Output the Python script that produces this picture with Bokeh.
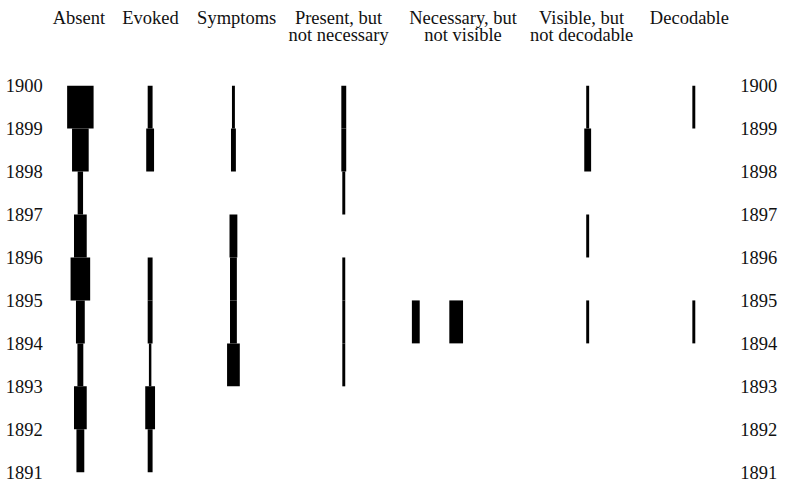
from bokeh.plotting import figure
from bokeh.models import Range1d, ColumnDataSource
from bokeh.core.properties import value
from bokeh.embed import file_html
from bokeh.resources import INLINE

# ---- data ----
years = [1891, 1892, 1893, 1894, 1895, 1896, 1897, 1898, 1899, 1900]
seg_start = years[:-1]  # each segment runs from year to year+1

header_line1 = ["Absent", "Evoked", "Symptoms", "Present, but", "Necessary, but", "Visible, but", "Decodable"]
header_line2 = ["", "", "", "not necessary", "not visible", "not decodable", ""]

# segment weights (bar widths), segments 1891-92 ... 1899-1900
absent      = [8, 13, 6, 9, 20, 13, 5.5, 17, 27]
evoked      = [5, 10, 2.5, 5, 5, 0, 0, 8, 5]
symptoms    = [0, 0, 13, 7, 7, 8, 0, 5, 3]
present     = [0, 0, 3, 3, 3, 0, 3, 5, 5]
necessary_a = [0, 0, 0, 8, 0, 0, 0, 0, 0]
necessary_b = [0, 0, 0, 14, 0, 0, 0, 0, 0]
visible     = [0, 0, 0, 3, 0, 3, 0, 7, 3]
decodable   = [0, 0, 0, 3, 0, 0, 0, 0, 3]

series = [absent, evoked, symptoms, present, necessary_a, necessary_b, visible, decodable]

# ---- layout (reference-pixel coordinates) ----
series_x = [81.5, 152.7, 237.7, 350.3, 423.8, 465.0, 599.2, 707.5]
header_x = [80, 153, 241, 345, 472, 593, 703]
REF_W, REF_H = 798, 508
Y_TOP_PX, PX_PER_YEAR = 89.0, 44.9


def ref_y(py):
    return 1900 - (py - Y_TOP_PX) / PX_PER_YEAR


p = figure(width=782, height=486, output_backend="svg", toolbar_location=None,
           x_axis_type=None, y_axis_type=None, min_border=0)
p.x_range = Range1d(0, REF_W)
p.y_range = Range1d(ref_y(REF_H), ref_y(0))
p.xgrid.visible = False
p.ygrid.visible = False
p.outline_line_color = None
p.background_fill_color = "white"
p.border_fill_color = "white"

bx, bb, bt, bw = [], [], [], []
for xs, vals in zip(series_x, series):
    for start, w in zip(seg_start, vals):
        if w > 0:
            bx.append(xs)
            bb.append(start)
            bt.append(start + 1)
            bw.append(w)
bars = ColumnDataSource(dict(x=bx, bottom=bb, top=bt, width=bw))
p.vbar(x="x", bottom="bottom", top="top", width="width", source=bars,
       fill_color="black", line_color=None)

FONT = value("Liberation Serif")
FS = "18.5px"

left = ColumnDataSource(dict(x=[43] * len(years), y=years, t=[str(y) for y in years]))
right = ColumnDataSource(dict(x=[755] * len(years), y=years, t=[str(y) for y in years]))
p.text(x="x", y="y", text="t", source=left, text_align="right", text_baseline="alphabetic",
       text_font=FONT, text_font_size=FS, text_color="#111111")
p.text(x="x", y="y", text="t", source=right, text_align="left", text_baseline="alphabetic",
       text_font=FONT, text_font_size=FS, text_color="#111111")

h1 = ColumnDataSource(dict(x=header_x, y=[ref_y(18.5)] * len(header_x), t=header_line1))
h2 = ColumnDataSource(dict(x=header_x, y=[ref_y(36.5)] * len(header_x), t=header_line2))
p.text(x="x", y="y", text="t", source=h1, text_align="center", text_baseline="alphabetic",
       text_font=FONT, text_font_size=FS, text_color="#111111")
p.text(x="x", y="y", text="t", source=h2, text_align="center", text_baseline="alphabetic",
       text_font=FONT, text_font_size=FS, text_color="#111111")

open("out.html", "w").write(file_html(p, INLINE))
